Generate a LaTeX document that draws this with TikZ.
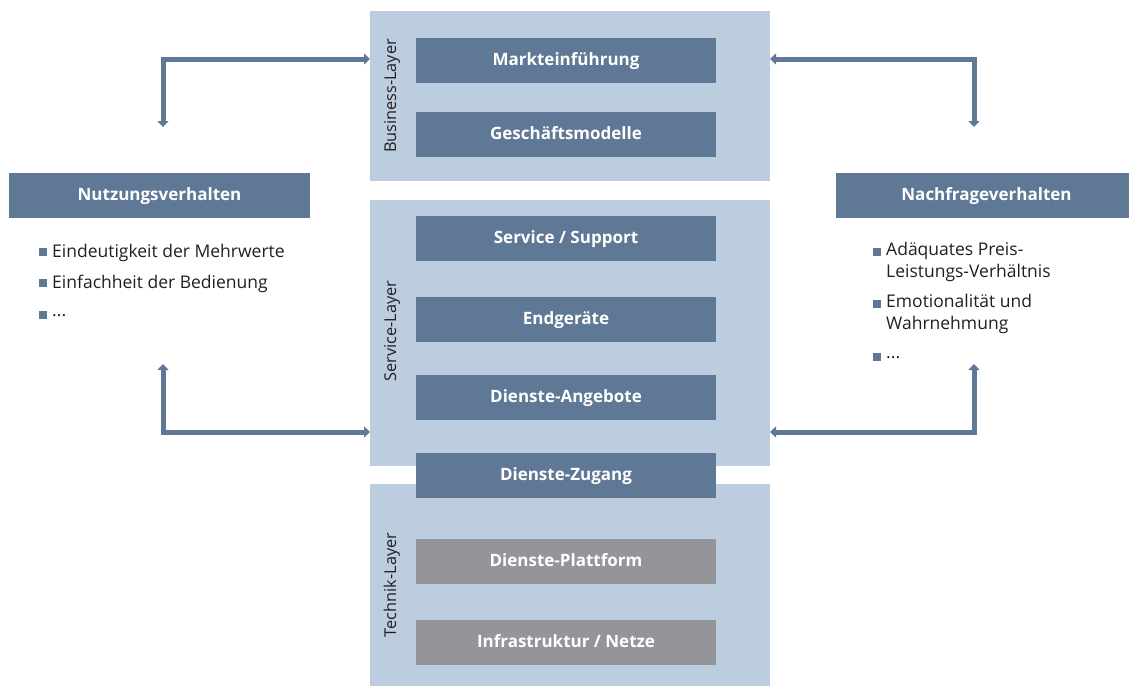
\documentclass[tikz,border=0pt]{standalone}
\usepackage{fontspec}
\setmainfont{Open Sans}
\usetikzlibrary{arrows.meta}
\definecolor{panel}{HTML}{BCCDDF}
\definecolor{darkbox}{HTML}{5F7896}
\definecolor{graybox}{HTML}{939598}
\definecolor{txt}{HTML}{231F20}
\tikzset{
  panelbox/.style={fill=panel, draw=none},
  layerbox/.style={fill=darkbox, draw=none, text=white, font=\fontsize{17}{20}\selectfont\bfseries, minimum width=300pt, minimum height=45pt, inner sep=0pt, text height=12.5pt, text depth=3.5pt},
  techbox/.style={layerbox, fill=graybox},
  sidebox/.style={layerbox, minimum width=301pt},
  layerlabel/.style={rotate=90, text=txt, font=\fontsize{16.3}{19}\selectfont, inner sep=0pt},
  bullet/.style={fill=darkbox, draw=none, minimum size=8pt, inner sep=0pt},
  btext/.style={text=txt, font=\fontsize{17.5}{21.5}\selectfont, anchor=west, inner sep=0pt, align=left},
  conn/.style={draw=darkbox, line width=5pt, {Triangle[width=11pt,length=6pt]}-{Triangle[width=11pt,length=6pt]}},
}
\begin{document}
\begin{tikzpicture}[x=1pt,y=-1pt]
\useasboundingbox (0,0) rectangle (1129,686);
% panels
\fill[panelbox] (370,11) rectangle (770,181);
\fill[panelbox] (370,200) rectangle (770,466);
\fill[panelbox] (370,484) rectangle (770,686);
% layer labels
\node[layerlabel] (bl) at (392,96) {Business-Layer};
\node[layerlabel] (sl) at (392,331) {Service-Layer};
\node[layerlabel] (tl) at (392,585) {Technik-Layer};
% boxes
\node[layerbox] (mk) at (566,60.5) {Markteinführung};
\node[layerbox] (gm) at (566,134.5) {Geschäftsmodelle};
\node[layerbox] (ss) at (566,238.5) {Service / Support};
\node[layerbox] (eg) at (566,319.5) {Endgeräte};
\node[layerbox] (da) at (566,397.5) {Dienste-Angebote};
\node[layerbox] (dz) at (566,475.5) {Dienste-Zugang};
\node[techbox] (dp) at (566,561.5) {Dienste-Plattform};
\node[techbox] (in) at (566,642.5) {Infrastruktur / Netze};
% side boxes
\node[sidebox] (nv) at (159.5,195.5) {Nutzungsverhalten};
\node[sidebox] (nf) at (986.5,195.5) {Nachfrageverhalten};
% left bullets
\node[bullet] (lb1) at (43,252) {};
\node[btext] (lt1) at (52,253) {Eindeutigkeit der Mehrwerte};
\node[bullet] (lb2) at (43,283) {};
\node[btext] (lt2) at (52,284) {Einfachheit der Bedienung};
\node[bullet] (lb3) at (43,315) {};
\node[btext] (lt3) at (52,316) {...};
% right bullets
\node[bullet] (rb1) at (877,252) {};
\node[btext, anchor=north west] (rt1) at (886,242) {Adäquates Preis-\\Leistungs-Verhältnis};
\node[bullet] (rb2) at (877,304) {};
\node[btext, anchor=north west] (rt2) at (886,294) {Emotionalität und\\Wahrnehmung};
\node[bullet] (rb3) at (877,357) {};
\node[btext] (rt3) at (886,358) {...};
% connector coordinates
\coordinate (a1) at (163,127);
\coordinate (a1c) at (163,59);
\coordinate (a1e) at (370,59);
\coordinate (a2) at (163,364);
\coordinate (a2c) at (163,432);
\coordinate (a2e) at (370,432);
\coordinate (a3) at (974,127);
\coordinate (a3c) at (974,59);
\coordinate (a3e) at (770,59);
\coordinate (a4) at (974,364);
\coordinate (a4c) at (974,432);
\coordinate (a4e) at (770,432);
\draw[conn] (a1) -- (a1c) -- (a1e);
\draw[conn] (a2) -- (a2c) -- (a2e);
\draw[conn] (a3) -- (a3c) -- (a3e);
\draw[conn] (a4) -- (a4c) -- (a4e);
\end{tikzpicture}
\end{document}
